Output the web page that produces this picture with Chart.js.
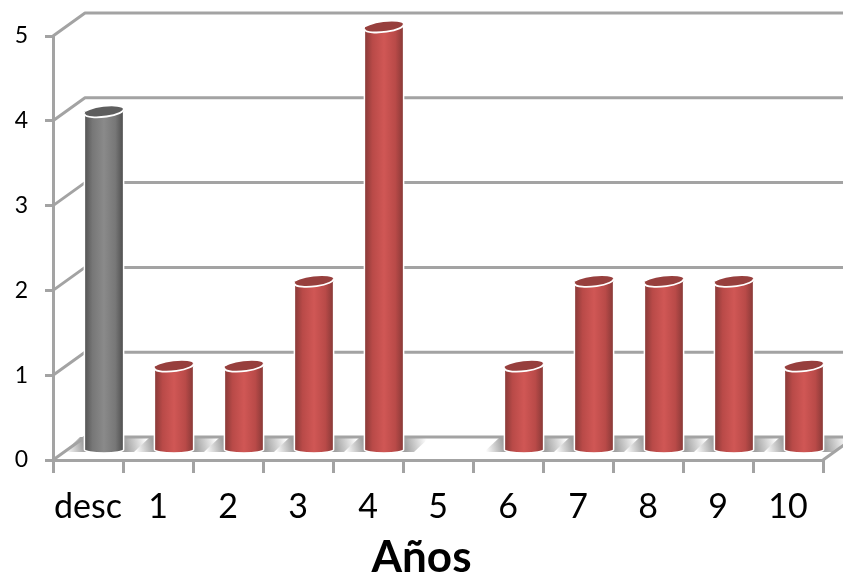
<!DOCTYPE html>
<html>
<head>
<meta charset="utf-8">
<style>
  html, body { margin: 0; padding: 0; background: #fff; }
  #wrap { width: 843px; height: 575px; }
</style>
<script src="https://cdn.jsdelivr.net/npm/chart.js@4"></script>
</head>
<body>
<div id="wrap"><canvas id="chart" width="843" height="575"></canvas></div>
<script>
const categories = ["desc", "1", "2", "3", "4", "5", "6", "7", "8", "9", "10"];
const counts = [4, 1, 1, 2, 5, 0, 1, 2, 2, 2, 1];
const yTicks = [0, 1, 2, 3, 4, 5];

const AXIS = "#a3a3a3";
// how far the back wall sits from the front of the box
const DEPTH_X = 32;
const DEPTH_Y = -23;
// bars stand in the middle of the floor
const BAR_DX = 16;
const BAR_DY = -9;

const RED = ["#8a3a38", "#b94a48", "#d05755", "#b94a48", "#8a3a38"];
const GREY = ["#555555", "#777777", "#8a8a8a", "#777777", "#505050"];
const stops = [0, 0.2, 0.5, 0.8, 1];

function barFill(ctx) {
  const chart = ctx.chart;
  const cols = ctx.dataIndex === 0 ? GREY : RED;
  if (ctx.dataIndex === undefined || !chart.scales.x) return cols[2];
  const x = chart.scales.x.getPixelForValue(ctx.dataIndex);
  if (!isFinite(x)) return cols[2];
  const g = chart.ctx.createLinearGradient(x - 19, 0, x + 19, 0);
  stops.forEach((s, i) => g.addColorStop(s, cols[i]));
  return g;
}

function wedge(c, pts, x0, y0, x1, y1) {
  const g = c.createLinearGradient(x0, y0, x1, y1);
  g.addColorStop(0, "rgba(130,130,130,0)");
  g.addColorStop(1, "rgba(130,130,130,0.75)");
  c.beginPath();
  pts.forEach((p, i) => i ? c.lineTo(p[0], p[1]) : c.moveTo(p[0], p[1]));
  c.closePath();
  c.fillStyle = g;
  c.fill();
}

// back wall, side wall and floor, hung off the real scales
const wallPlugin = {
  id: "wall",
  beforeDatasetsDraw(chart) {
    const { x: xs, y: ys } = chart.scales;
    const c = chart.ctx;
    const left = xs.left, right = xs.right, y0 = ys.getPixelForValue(0);
    c.save();

    // soft shadow wedges either side of each bar
    counts.forEach((v, i) => {
      if (!v) return;
      const cx = xs.getPixelForValue(i) + BAR_DX;
      const L = cx - 18, R = cx + 18;
      const top = y0 + DEPTH_Y, bot = y0 - 8;
      wedge(c, [[L - 22, bot], [L - 6, top], [L + 2, top], [L + 2, bot]], L - 20, bot, L - 2, bot - 4);
      wedge(c, [[R - 2, bot], [R - 2, top], [R + 28, top], [R + 12, bot]], R + 24, top, R + 2, top + 5);
    });

    c.strokeStyle = AXIS;
    c.lineWidth = 3;
    c.lineJoin = "round";

    // gridlines run back from the axis then along the wall
    yTicks.forEach(t => {
      const y = ys.getPixelForValue(t);
      c.beginPath();
      c.moveTo(left, y);
      c.lineTo(left + DEPTH_X, y + DEPTH_Y);
      c.lineTo(843, y + DEPTH_Y);
      c.stroke();
    });

    // right edge of floor
    c.beginPath();
    c.moveTo(right, y0);
    c.lineTo(right + DEPTH_X, y0 + DEPTH_Y);
    c.stroke();
    c.restore();

    // bars are drawn shifted onto the floor
    c.save();
    c.translate(BAR_DX, BAR_DY);
  },
  afterDatasetsDraw(chart) {
    const c = chart.ctx;
    const meta = chart.getDatasetMeta(0);
    meta.data.forEach((bar, i) => {
      if (!counts[i]) return;
      const hw = bar.width / 2;
      // rounded foot, whole ellipse so it overlaps the bar body
      c.beginPath();
      c.ellipse(bar.x, bar.base, hw, 3.5, 0, 0, Math.PI * 2);
      c.fillStyle = barFill({ chart, dataIndex: i });
      c.fill();
      // white edge down one side, round the foot and up the other
      c.strokeStyle = "#ffffff";
      c.lineWidth = 1.5;
      c.beginPath();
      c.moveTo(bar.x + hw, bar.y);
      c.lineTo(bar.x + hw, bar.base);
      c.ellipse(bar.x, bar.base, hw, 3.5, 0, 0, Math.PI);
      c.lineTo(bar.x - hw, bar.y);
      c.stroke();
      // top of the cylinder
      c.beginPath();
      c.ellipse(bar.x, bar.y, hw, 5, -0.12, 0, Math.PI * 2);
      c.fillStyle = i === 0 ? "#5e5e5e" : "#973f3d";
      c.fill();
      c.lineWidth = 1.8;
      c.beginPath();
      c.ellipse(bar.x, bar.y, hw, 5, -0.12, -0.1, Math.PI + 0.1);
      c.stroke();
    });
    c.restore();
  }
};

new Chart(document.getElementById("chart"), {
  type: "bar",
  data: {
    labels: categories,
    datasets: [{
      data: counts,
      backgroundColor: barFill,
      borderWidth: 0,
      categoryPercentage: 1,
      barPercentage: 0.56
    }]
  },
  options: {
    responsive: false,
    animation: false,
    layout: { padding: { top: 36, right: 0, left: 0, bottom: 0 } },
    plugins: {
      legend: { display: false },
      tooltip: { enabled: false },
      title: {
        display: true,
        text: "Años",
        position: "bottom",
        color: "#000",
        font: { family: "Lato", size: 44, weight: "bold", lineHeight: 1.2 },
        padding: { top: 0, bottom: -9 }
      }
    },
    scales: {
      x: {
        offset: true,
        afterFit(s) { s.height = 71.2; },
        grid: { offset: true, drawOnChartArea: false, color: AXIS, lineWidth: 3, tickLength: 13 },
        border: { color: AXIS, width: 3 },
        ticks: { color: "#000", font: { family: "Lato", size: 34 }, padding: 14, maxRotation: 0, autoSkip: false }
      },
      y: {
        min: 0,
        max: 5,
        afterFit(s) { s.width = 53; },
        grid: { drawOnChartArea: false, color: AXIS, lineWidth: 3, tickLength: 8 },
        border: { color: AXIS, width: 3 },
        ticks: { color: "#000", stepSize: 1, font: { family: "Lato", size: 23 }, padding: 17 }
      },
      // empty axis on the right keeps the plot 20px short of the edge
      // while the title still centres on the full canvas
      spacer: {
        position: "right",
        afterFit(s) { s.width = 20; },
        grid: { display: false },
        border: { display: false },
        ticks: { display: false }
      }
    }
  },
  plugins: [wallPlugin]
});
</script>
</body>
</html>
